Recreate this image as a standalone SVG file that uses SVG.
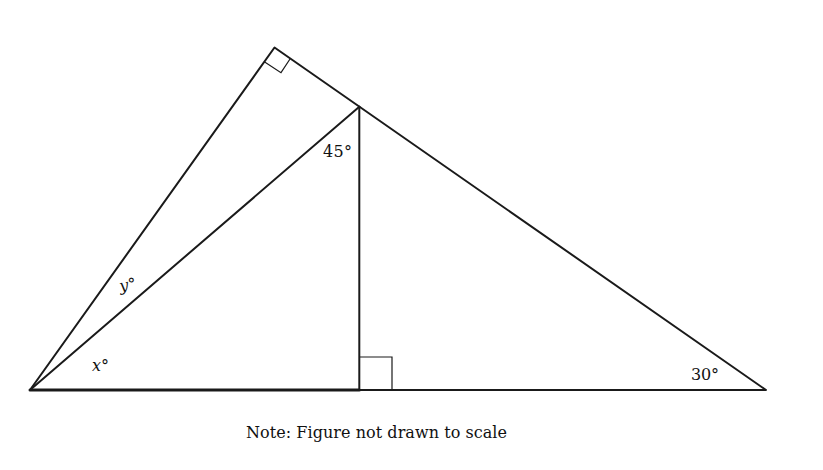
<svg xmlns="http://www.w3.org/2000/svg" width="823" height="470" viewBox="0 0 823 470">
<style>
.ln{stroke:#1a1a1a;stroke-width:2;fill:none;stroke-linecap:round;stroke-linejoin:round}
.thin{stroke:#1a1a1a;stroke-width:1.2;fill:none}
.lbl{font-family:"DejaVu Serif","Liberation Serif",serif;font-size:16px;fill:#111}
.it{font-style:italic}
</style>
<rect width="823" height="470" fill="#fff"/>
<g id="connectors">
<polygon class="ln" points="30,390 274.5,47.5 766,390"/>
<line class="ln" x1="30" y1="390" x2="359.3" y2="106.7"/>
<line class="ln" x1="359.3" y1="106.7" x2="359.3" y2="390"/>
<line class="ln" x1="30" y1="390" x2="359.3" y2="390" style="stroke-width:3"/>
<polyline class="thin" points="264.3,61.7 281,72.7 290,59"/>
<polyline class="thin" points="359.3,357 392,357 392,390"/>
</g>
<g id="labels">
<text class="lbl" x="323" y="157" textLength="29">45°</text>
<text class="lbl it" x="119" y="290" transform="rotate(-10 128 284)">y°</text>
<text class="lbl it" x="92" y="371">x°</text>
<text class="lbl" x="691" y="380" textLength="28">30°</text>
<text class="lbl" x="246" y="438" textLength="261">Note: Figure not drawn to scale</text>
</g>
</svg>
